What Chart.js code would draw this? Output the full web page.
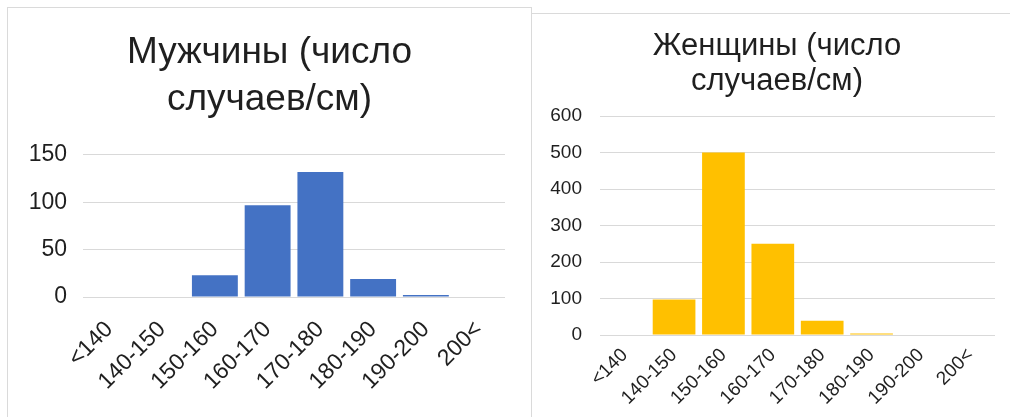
<!DOCTYPE html>
<html>
<head>
<meta charset="utf-8">
<script src="https://cdn.jsdelivr.net/npm/chart.js@4.4.1/dist/chart.umd.min.js"></script>
<style>
  html, body { margin: 0; padding: 0; background: #fff; }
  body { position: relative; width: 1010px; height: 417px; overflow: hidden; }
  .panel { position: absolute; box-sizing: border-box; border: 1px solid #dadada; border-bottom: none; background: #fff; }
  #menPanel { left: 7px; top: 7px; width: 525px; height: 410px; }
  #womenPanel { left: 531px; top: 13px; width: 479px; height: 404px; border-right: none; }
  canvas { position: absolute; left: 0; top: 0; }
</style>
</head>
<body>
<div class="panel" id="menPanel"><canvas id="menChart" width="523" height="409"></canvas></div>
<div class="panel" id="womenPanel"><canvas id="womenChart" width="478" height="403"></canvas></div>
<script>
// Height bins (cm) shared by both histograms
const heightBins = ['<140', '140-150', '150-160', '160-170', '170-180', '180-190', '190-200', '200<'];

// Number of cases per bin
const menCounts = [0, 0, 23, 97, 132, 19, 2, 0];
const womenCounts = [0, 97, 500, 250, 39, 4, 0, 0];

// Value-axis tick labels
const menTicks = [0, 50, 100, 150];
const womenTicks = [0, 100, 200, 300, 400, 500, 600];

const menTitle = ['Мужчины (число', 'случаев/см)'];
const womenTitle = ['Женщины (число', 'случаев/см)'];

const FONT = '"Liberation Sans", Arial, sans-serif';
const TEXT = '#1f1f1f';
const GRID = '#d9d9d9';

function histogram(canvasId, values, ticks, title, cfg) {
  return new Chart(document.getElementById(canvasId), {
    type: 'bar',
    data: {
      labels: heightBins,
      datasets: [{
        data: values,
        backgroundColor: cfg.color,
        borderWidth: 0,
        categoryPercentage: 1,
        barPercentage: cfg.barPct
      }]
    },
    options: {
      responsive: false,
      animation: false,
      devicePixelRatio: 1,
      layout: { padding: { left: cfg.padLeft, right: 0, top: 0, bottom: 0 } },
      plugins: {
        legend: { display: false },
        tooltip: { enabled: false },
        title: {
          display: true,
          text: title,
          color: TEXT,
          font: { family: FONT, size: cfg.titleSize, weight: 'normal', lineHeight: cfg.titleLine },
          padding: { top: cfg.titleTop, bottom: cfg.titleBottom }
        }
      },
      scales: {
        x: {
          grid: { display: false, drawTicks: false },
          border: { display: false },
          ticks: {
            color: TEXT,
            font: { family: FONT, size: cfg.xFont },
            minRotation: 45,
            maxRotation: 45,
            autoSkip: false,
            padding: cfg.xPad
          },
          afterFit(scale) { scale.height = cfg.xHeight; }
        },
        y: {
          min: ticks[0],
          max: ticks[ticks.length - 1],
          grid: { color: GRID, lineWidth: 1, drawTicks: false },
          border: { display: false },
          ticks: {
            stepSize: ticks[1] - ticks[0],
            color: TEXT,
            font: { family: FONT, size: cfg.yFont },
            padding: cfg.yPad
          },
          afterFit(scale) { scale.width = cfg.yWidth; }
        },
        // empty right-hand gutter so the plot ends short of the frame
        gutter: {
          type: 'linear',
          position: 'right',
          grid: { display: false, drawTicks: false },
          border: { display: false },
          ticks: { display: false },
          afterFit(scale) { scale.width = cfg.gutter; }
        }
      }
    }
  });
}

histogram('menChart', menCounts, menTicks, menTitle, {
  color: '#4472c4', barPct: 0.87, padLeft: 0, gutter: 26,
  titleSize: 37, titleLine: 1.27, titleTop: 21, titleBottom: 32,
  xFont: 23, xPad: 19, xHeight: 120,
  yFont: 23, yPad: 16, yWidth: 75
});

histogram('womenChart', womenCounts, womenTicks, womenTitle, {
  color: '#ffc000', barPct: 0.865, padLeft: 12, gutter: 15,
  titleSize: 31, titleLine: 1.13, titleTop: 15, titleBottom: 17,
  xFont: 19, xPad: 9, xHeight: 82,
  yFont: 19, yPad: 18, yWidth: 56
});
</script>
</body>
</html>
